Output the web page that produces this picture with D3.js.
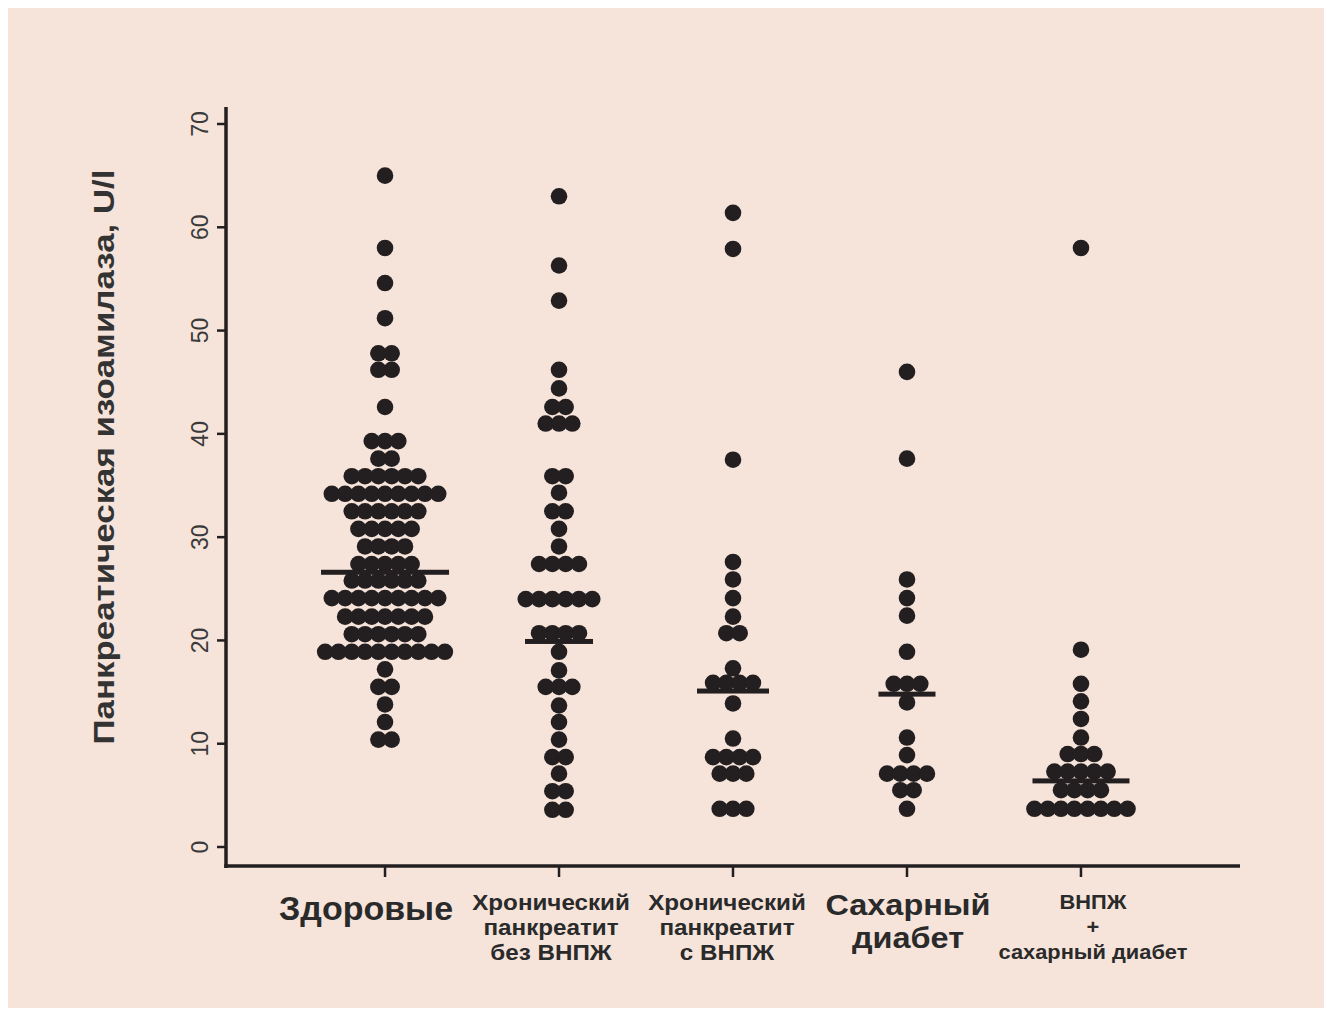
<!DOCTYPE html>
<html>
<head>
<meta charset="utf-8">
<script src="https://cdn.jsdelivr.net/npm/d3@7/dist/d3.min.js"></script>
<style>
  html, body { margin: 0; padding: 0; background: #ffffff; }
  svg { display: block; }
</style>
</head>
<body>
<svg id="chart" width="1332" height="1010"></svg>
<script>
// ---- Data: pancreatic isoamylase (U/l), one value per subject ----
const groupLabels = [
  ["Здоровые"],
  ["Хронический", "панкреатит", "без ВНПЖ"],
  ["Хронический", "панкреатит", "с ВНПЖ"],
  ["Сахарный", "диабет"],
  ["ВНПЖ", "+", "сахарный диабет"]
];

const healthy = [
  65, 58, 54.6, 51.2, 47.8, 47.8, 46.2, 46.2, 42.6,
  39.3, 39.3, 39.3, 37.6, 37.6,
  35.9, 35.9, 35.9, 35.9, 35.9, 35.9,
  34.2, 34.2, 34.2, 34.2, 34.2, 34.2, 34.2, 34.2, 34.2,
  32.5, 32.5, 32.5, 32.5, 32.5, 32.5,
  30.8, 30.8, 30.8, 30.8, 30.8,
  29.1, 29.1, 29.1, 29.1,
  27.4, 27.4, 27.4, 27.4, 27.4,
  25.8, 25.8, 25.8, 25.8, 25.8, 25.8,
  24.1, 24.1, 24.1, 24.1, 24.1, 24.1, 24.1, 24.1, 24.1,
  22.3, 22.3, 22.3, 22.3, 22.3, 22.3, 22.3,
  20.6, 20.6, 20.6, 20.6, 20.6, 20.6,
  18.9, 18.9, 18.9, 18.9, 18.9, 18.9, 18.9, 18.9, 18.9, 18.9,
  17.2, 15.5, 15.5, 13.8, 12.1, 10.4, 10.4
];

const chronicNoEPI = [
  63.0, 56.3, 52.9, 46.2, 44.4, 42.6, 42.6, 41.0, 41.0, 41.0,
  35.9, 35.9, 34.3, 32.5, 32.5, 30.8, 29.1,
  27.4, 27.4, 27.4, 27.4,
  24.0, 24.0, 24.0, 24.0, 24.0, 24.0,
  20.7, 20.7, 20.7, 20.7,
  18.9, 17.1, 15.5, 15.5, 15.5, 13.7, 12.1, 10.4,
  8.7, 8.7, 7.1, 5.4, 5.4, 3.6, 3.6
];

const chronicEPI = [
  61.4, 57.9, 37.5, 27.6, 25.9, 24.1, 22.3, 20.7, 20.7, 17.3,
  15.9, 15.9, 15.9, 15.9, 13.9, 10.5,
  8.7, 8.7, 8.7, 8.7, 7.1, 7.1, 7.1, 3.7, 3.7, 3.7
];

const diabetes = [
  46.0, 37.6, 25.9, 24.1, 22.4, 18.9, 15.8, 15.8, 15.8, 14.0,
  10.6, 8.9, 7.1, 7.1, 7.1, 7.1, 5.5, 5.5, 3.7
];

const epiDiabetes = [
  58.0, 19.1, 15.8, 14.1, 12.4, 10.6, 9.0, 9.0, 9.0,
  7.3, 7.3, 7.3, 7.3, 7.3, 5.5, 5.5, 5.5, 5.5,
  3.7, 3.7, 3.7, 3.7, 3.7, 3.7, 3.7, 3.7
];

const seriesValues = [healthy, chronicNoEPI, chronicEPI, diabetes, epiDiabetes];
const centralValues = [26.6, 19.9, 15.1, 14.8, 6.4];
const yTicks = [0, 10, 20, 30, 40, 50, 60, 70];
const yTitle = "Панкреатическая изоамилаза, U/l";

// ---- Layout ----
const W = 1332, H = 1010;
const ink = "#231f20";
const axisLeft = 226, axisRight = 1240, axisBottom = 866, axisTop = 107;
const dotR = 8.3, dotStep = 13.3;
const barWidths = [128, 68, 72, 57, 97];
const font = "Liberation Sans, Arial, sans-serif";

const svg = d3.select("#chart");

svg.append("rect")
  .attr("x", 8).attr("y", 8)
  .attr("width", W - 16).attr("height", H - 10)
  .attr("fill", "#f6e4da");

const x = d3.scalePoint()
  .domain(d3.range(groupLabels.length))
  .range([axisLeft, axisRight])
  .padding(0.914);

const y = d3.scaleLinear().domain([0, 70]).range([847, 124]);

// Dots: values sharing a row are spread symmetrically around the group centre
seriesValues.forEach((vals, gi) => {
  const rows = d3.groups(vals, v => v);
  const pts = [];
  rows.forEach(([v, arr]) => {
    arr.forEach((_, i) => {
      pts.push({ v, dx: (i - (arr.length - 1) / 2) * dotStep });
    });
  });
  svg.append("g")
    .selectAll("circle")
    .data(pts)
    .join("circle")
    .attr("cx", d => x(gi) + d.dx)
    .attr("cy", d => y(d.v))
    .attr("r", dotR)
    .attr("fill", ink);
});

// Central tendency bars
svg.append("g")
  .selectAll("rect")
  .data(centralValues)
  .join("rect")
  .attr("x", (d, i) => x(i) - barWidths[i] / 2)
  .attr("y", d => y(d) - 2.5)
  .attr("width", (d, i) => barWidths[i])
  .attr("height", 5)
  .attr("fill", ink);

// Y axis
const yAxis = svg.append("g");
yAxis.append("line")
  .attr("x1", axisLeft).attr("x2", axisLeft)
  .attr("y1", axisTop).attr("y2", axisBottom + 2)
  .attr("stroke", ink).attr("stroke-width", 3.5);
yAxis.selectAll(".tick")
  .data(yTicks)
  .join("line")
  .attr("x1", axisLeft - 9).attr("x2", axisLeft)
  .attr("y1", d => y(d)).attr("y2", d => y(d))
  .attr("stroke", ink).attr("stroke-width", 2.5);
yAxis.selectAll("text")
  .data(yTicks)
  .join("text")
  .attr("transform", d => `translate(208,${y(d)}) rotate(-90)`)
  .attr("text-anchor", "middle")
  .attr("font-family", font)
  .attr("font-size", 23)
  .attr("fill", "#3a3a3a")
  .text(d => d);

// X axis
const xAxis = svg.append("g");
xAxis.append("line")
  .attr("x1", axisLeft - 1.75).attr("x2", axisRight)
  .attr("y1", axisBottom).attr("y2", axisBottom)
  .attr("stroke", ink).attr("stroke-width", 3.5);
xAxis.selectAll("line.tick")
  .data(d3.range(groupLabels.length))
  .join("line")
  .attr("class", "tick")
  .attr("x1", d => x(d)).attr("x2", d => x(d))
  .attr("y1", axisBottom).attr("y2", axisBottom + 11)
  .attr("stroke", ink).attr("stroke-width", 2.5);

// Category labels
const labelStyle = [
  { size: 34, dx: -19, base: [920] },
  { size: 22, dx: -8, base: [910, 935, 960], stretch: 1.1 },
  { size: 22, dx: -6, base: [910, 935, 960], stretch: 1.1 },
  { size: 29, dx: 1, base: [915, 948.5], stretch: 1.12 },
  { size: 21, dx: 12, base: [909, 934, 959], stretch: 1.04 }
];
groupLabels.forEach((lines, gi) => {
  const st = labelStyle[gi];
  const cx = x(gi) + st.dx;
  const sx = st.stretch || 1;
  const g = svg.append("g")
    .attr("transform", `translate(${cx},0) scale(${sx},1)`);
  lines.forEach((ln, li) => {
    g.append("text")
      .attr("x", 0)
      .attr("y", st.base[li])
      .attr("text-anchor", "middle")
      .attr("font-family", font)
      .attr("font-weight", "bold")
      .attr("font-size", st.size)
      .attr("fill", "#2a2a2a")
      .text(ln);
  });
});

// Y title
svg.append("text")
  .attr("transform", `translate(114,457) rotate(-90)`)
  .attr("text-anchor", "middle")
  .attr("font-family", font)
  .attr("font-weight", "bold")
  .attr("font-size", 30)
  .attr("textLength", 575)
  .attr("lengthAdjust", "spacingAndGlyphs")
  .attr("fill", "#333333")
  .text(yTitle);
</script>
</body>
</html>
